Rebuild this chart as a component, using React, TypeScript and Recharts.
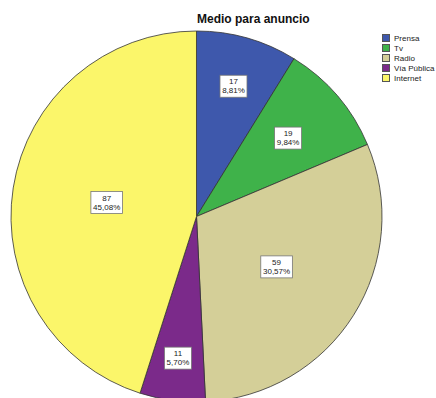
import React from 'react'
import { PieChart, Pie, Cell, Legend } from 'recharts'

const CATEGORIES = ['Prensa', 'Tv', 'Radio', 'Vía Pública', 'Internet']
const COUNTS = [17, 19, 59, 11, 87]
const COLORS = ['#3e58ac', '#3fb24a', '#d4cf98', '#7b2a8a', '#fbf66a']
// how far out (fraction of the radius) each box label sits
const LABEL_RADIUS = [0.73, 0.65, 0.51, 0.77, 0.49]

const TOTAL = COUNTS.reduce((a, b) => a + b, 0)
const data = CATEGORIES.map((name, i) => ({ name, value: COUNTS[i] }))

const pct = (v: number) => `${((v / TOTAL) * 100).toFixed(2).replace('.', ',')}%`

const RAD = Math.PI / 180

const renderLabel = (props: any) => {
  const { cx, cy, midAngle, outerRadius, index, value } = props
  const r = outerRadius * LABEL_RADIUS[index]
  const x = cx + r * Math.cos(-midAngle * RAD)
  const y = cy + r * Math.sin(-midAngle * RAD)
  const txt = pct(value)
  const w = txt.length * 4.6 + 4
  return (
    <g>
      <rect x={x - w / 2} y={y - 11} width={w} height={22} fill="#fff" stroke="#777" strokeWidth={0.8} />
      <text x={x} y={y - 2} textAnchor="middle" fontSize={8} fill="#222" fontFamily="Liberation Sans, Arial">{value}</text>
      <text x={x} y={y + 7} textAnchor="middle" fontSize={8} fill="#222" fontFamily="Liberation Sans, Arial">{txt}</text>
    </g>
  )
}

const LegendBox = () => (
  <div style={{ fontFamily: 'Liberation Sans, Arial', fontSize: 8, color: '#222' }}>
    {CATEGORIES.map((c, i) => (
      <div key={c} style={{ display: 'flex', alignItems: 'center', height: 10 }}>
        <span style={{ width: 6, height: 6, background: COLORS[i], border: '0.5px solid #555', marginRight: 4 }} />
        <span>{c}</span>
      </div>
    ))}
  </div>
)

export default function App() {
  return (
    <div style={{ position: 'fixed', left: 0, top: 0, width: 436, height: 398, overflow: 'hidden', background: '#fff' }}>
      <div style={{
        position: 'absolute', left: 197, top: 12, fontFamily: 'Liberation Sans, Arial',
        fontWeight: 'bold', fontSize: 12, color: '#111', whiteSpace: 'nowrap',
      }}>
        Medio para anuncio
      </div>
      <PieChart width={436} height={398} margin={{ top: 0, right: 0, bottom: 0, left: 0 }}>
        <Pie
          data={data}
          dataKey="value"
          cx={196.5}
          cy={216.5}
          outerRadius={185.5}
          startAngle={90}
          endAngle={-270}
          stroke="#333"
          strokeWidth={0.8}
          label={renderLabel}
          labelLine={false}
          isAnimationActive={false}
        >
          {data.map((d, i) => (
            <Cell key={d.name} fill={COLORS[i]} />
          ))}
        </Pie>
        <Legend
          layout="vertical"
          verticalAlign="top"
          align="right"
          content={<LegendBox />}
          wrapperStyle={{ left: 382, top: 33, width: 54 }}
        />
      </PieChart>
    </div>
  )
}
